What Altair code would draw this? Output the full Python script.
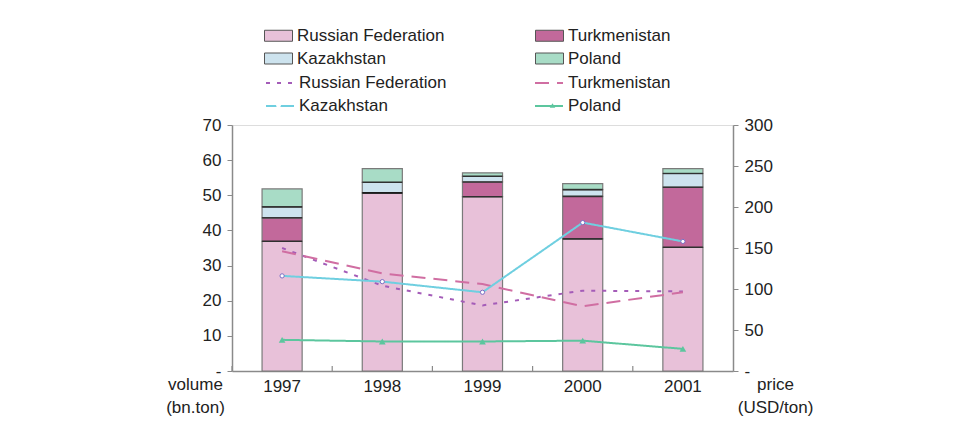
import altair as alt
import pandas as pd

years = ["1997", "1998", "1999", "2000", "2001"]
countries = ["Russian Federation", "Turkmenistan", "Kazakhstan", "Poland"]
# same names for the price lines (zero-width space keeps their legend separate)
line_series = [c + "\u200b" for c in countries]

# volumes (bn.ton), left axis
russia_vol = [36.9, 50.7, 49.6, 37.6, 35.2]
turkm_vol = [6.7, 0.0, 4.2, 12.1, 17.1]
kaz_vol = [3.1, 3.0, 1.6, 1.9, 3.9]
pol_vol = [5.1, 3.9, 1.0, 1.7, 1.4]

# prices (USD/ton), right axis
russia_price = [150, 104, 80, 98, 97]
turkm_price = [146, 119, 106, 79, 96]
kaz_price = [116, 109, 96, 181, 158]
pol_price = [38, 36, 36, 37, 27]

bar_colors = ["#e8c1d9", "#c2699b", "#cde3ee", "#a8dcc6"]
line_colors = ["#a45cb8", "#d06ea2", "#6fcfe0", "#5cc69e"]
line_dashes = [[4, 7], [14, 8], [1, 0], [1, 0]]
kaz_marker_stroke = "#7b6fc4"

vols = [russia_vol, turkm_vol, kaz_vol, pol_vol]
prices = [russia_price, turkm_price, kaz_price, pol_price]

bar_rows, line_rows = [], []
for k, c in enumerate(countries):
    for i, y in enumerate(years):
        bar_rows.append({"year": y, "country": c, "order": k, "volume": vols[k][i]})
        line_rows.append({"year": y, "series": line_series[k], "order": k,
                          "price": prices[k][i], "mk": c[:3]})
bars_df = pd.DataFrame(bar_rows)
lines_df = pd.DataFrame(line_rows)
years_df = pd.DataFrame({"year": years})

W, H = 501, 246
FS = 17
AX = "#8a8a8a"

x_enc = alt.X(
    "year:N",
    sort=years,
    scale=alt.Scale(paddingInner=0.6, paddingOuter=0.3),
    axis=alt.Axis(title=None, labelAngle=0, ticks=False, domainColor=AX,
                  domainWidth=1.5, labelFontSize=FS, labelPadding=7, labelColor="#222"),
)

left_axis = alt.Axis(
    values=[0, 10, 20, 30, 40, 50, 60, 70],
    labelExpr="datum.value == 0 ? '-' : datum.label",
    grid=False, tickSize=5, domainColor=AX, tickColor=AX, domainWidth=1.5,
    labelFontSize=FS, labelPadding=6, labelColor="#222",
    title=["volume", "(bn.ton)"], titleAngle=0, titleX=-37, titleY=251,
    titleAlign="center", titleBaseline="top", titleFontWeight="normal",
    titleFontSize=FS, titleLineHeight=23, titleColor="#222",
)
right_axis = alt.Axis(
    values=[0, 50, 100, 150, 200, 250, 300],
    labelExpr="datum.value == 0 ? '-' : datum.label",
    grid=False, tickSize=5, domainColor=AX, tickColor=AX, domainWidth=1.5,
    labelFontSize=FS, labelPadding=6, labelColor="#222", orient="right",
    title=["price", "(USD/ton)"], titleAngle=0, titleX=42, titleY=251,
    titleAlign="center", titleBaseline="top", titleFontWeight="normal",
    titleFontSize=FS, titleLineHeight=23, titleColor="#222",
)

vol_y = alt.Y("volume:Q", stack="zero", scale=alt.Scale(domain=[0, 70]), axis=left_axis)

bars = alt.Chart(bars_df).mark_bar(stroke="#7a7a7a", strokeWidth=1.2).encode(
    x=x_enc,
    y=vol_y,
    fill=alt.Fill("country:N", scale=alt.Scale(domain=countries, range=bar_colors),
                  legend=alt.Legend(
                      orient="none", legendX=38, legendY=-98, columns=2, direction="horizontal",
                      title=None,
                      symbolType="M-2.8,-1.1L2.8,-1.1L2.8,1.1L-2.8,1.1Z", symbolSize=100,
                      symbolStrokeColor="#555", symbolStrokeWidth=1, symbolOpacity=1,
                      labelFontSize=FS, labelColor="#222", labelOffset=10,
                      columnPadding=88, rowPadding=5, padding=0, labelLimit=300)),
    order=alt.Order("order:Q"),
)

# black separators at the top of each lower segment
seps = alt.Chart(bars_df).transform_stack(
    stack="volume", groupby=["year"], sort=[alt.SortField("order", "ascending")], as_=["v0", "v1"]
).transform_filter(alt.datum.order < 3).mark_tick(
    color="#111", thickness=1.6, size=40, orient="horizontal"
).encode(x=x_enc, y=alt.Y("v1:Q", scale=alt.Scale(domain=[0, 70]), axis=left_axis))

xticks = alt.Chart(years_df).mark_rule(color=AX, strokeWidth=1.2, xOffset=-50.1).encode(
    x=x_enc, y=alt.value(H - 5), y2=alt.value(H)
)

price_y = alt.Y("price:Q", scale=alt.Scale(domain=[0, 300]), axis=right_axis)

line_legend = alt.Legend(
    orient="none", legendX=33, legendY=-57, columns=2, direction="horizontal", title=None,
    symbolType="stroke", symbolSize=784, symbolStrokeWidth=2,
    labelFontSize=FS, labelColor="#222", labelOffset=4,
    columnPadding=84, rowPadding=-5, padding=0, labelLimit=300)

lines = alt.Chart(lines_df).mark_line(strokeWidth=2).encode(
    x=x_enc,
    y=price_y,
    stroke=alt.Stroke("series:N", scale=alt.Scale(domain=line_series, range=line_colors),
                      legend=line_legend),
    strokeDash=alt.StrokeDash("series:N", scale=alt.Scale(domain=line_series, range=line_dashes),
                              legend=line_legend),
)

kaz_pts = alt.Chart(lines_df).transform_filter(alt.datum.series == line_series[2]).mark_point(
    filled=True, fill="white", stroke=kaz_marker_stroke, strokeWidth=1, size=18, opacity=1
).encode(
    x=x_enc, y=price_y,
    shape=alt.Shape("mk:N", scale=alt.Scale(domain=["Kaz"], range=["circle"]),
                    legend=alt.Legend(orient="none", legendX=43.5, legendY=-22.5, title=None,
                                      symbolSize=22, labelExpr="''", labelFontSize=1, padding=0,
                                      symbolOpacity=1, symbolFillColor="white",
                                      symbolStrokeColor=kaz_marker_stroke, symbolStrokeWidth=1)),
)

pol_pts = alt.Chart(lines_df).transform_filter(alt.datum.series == line_series[3]).mark_point(
    filled=True, color=line_colors[3], size=45, opacity=1
).encode(
    x=x_enc, y=price_y,
    shape=alt.Shape("mk:N", scale=alt.Scale(domain=["Pol"], range=["triangle-up"]),
                    legend=alt.Legend(orient="none", legendX=317.5, legendY=-22.5, title=None,
                                      symbolSize=30, labelExpr="''", labelFontSize=1, padding=0,
                                      symbolOpacity=1, symbolFillColor=line_colors[3],
                                      symbolStrokeColor=line_colors[3], symbolStrokeWidth=0)),
)

left = alt.layer(bars, seps, xticks)
right = alt.layer(lines, kaz_pts, pol_pts).resolve_scale(shape="independent")

chart = alt.layer(left, right).resolve_scale(
    y="independent"
).properties(
    width=W, height=H,
    autosize=alt.AutoSizeParams(type="none"),
    padding={"left": 224, "top": 117, "right": 235, "bottom": 50},
).configure_view(stroke=None).configure(font="Liberation Sans")

chart.save("out.html", embed_options={"renderer": "svg", "actions": False})
